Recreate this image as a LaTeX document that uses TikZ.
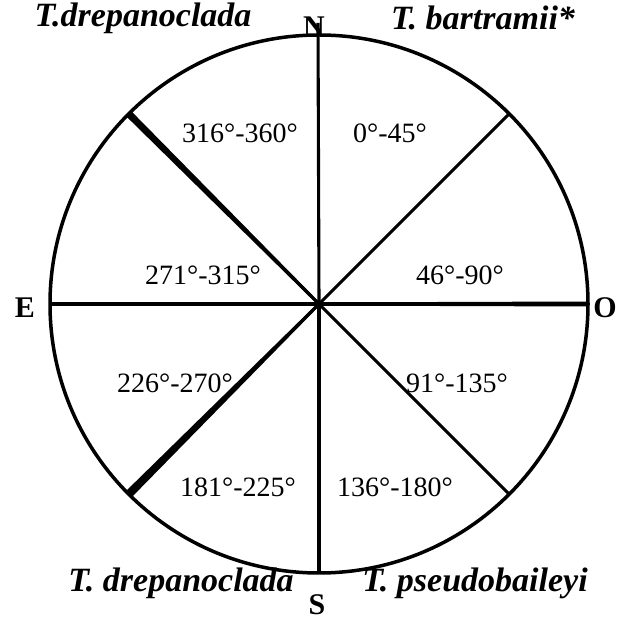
\documentclass[tikz,border=0pt]{standalone}
\usepackage{fontspec}
\setmainfont{Liberation Serif}
\usetikzlibrary{calc}
\tikzset{
  ray/.style={line width=3.1pt, line cap=butt},
  rim/.style={line width=3.5pt},
  sector/.style={font=\fontsize{28}{33}\selectfont, inner sep=0pt},
  species/.style={font=\fontsize{34}{40}\selectfont\bfseries\itshape, inner sep=0pt},
  cardinal/.style={font=\fontsize{30}{35}\selectfont\bfseries, inner sep=0pt},
}
\begin{document}
\begin{tikzpicture}[x=1pt,y=1pt]
\useasboundingbox (0,0) rectangle (617,621);
\fill[white] (0,0) rectangle (617,621);
\coordinate (C) at (319,317);
\draw[rim] (C) circle[radius=269];
% edge points
\coordinate (pN) at (318,598);
\coordinate (pS) at ($(C)+(270:269)$);
\coordinate (pE) at ($(C)+(180:269)$);
\coordinate (pO) at ($(C)+(0:269)$);
\coordinate (pNE) at ($(C)+(45:269)$);
\coordinate (pNW) at ($(C)+(135:269)$);
\coordinate (pSW) at ($(C)+(225:269)$);
\coordinate (pSE) at ($(C)+(315:269)$);
% rays
\draw[ray] (C) -- (pN);
\draw[ray] (C) -- (pS);
\draw[ray] (C) -- (pE);
\draw[ray] (C) -- (pO);
\draw[ray] (C) -- (pNE);
\draw[ray] (C) -- (pNW);
\draw[ray] (C) -- (pSW);
\draw[ray] (C) -- (pSE);
% thick tapered rays
\fill ($(pNW)!3.6pt!90:(C)$) -- ($(C)!1.5pt!-90:(pNW)$) -- ($(C)!1.5pt!90:(pNW)$) -- ($(pNW)!3.6pt!-90:(C)$) -- cycle;
\fill ($(pSW)!4.2pt!90:(C)$) -- ($(C)!1.5pt!-90:(pSW)$) -- ($(C)!1.5pt!90:(pSW)$) -- ($(pSW)!4.2pt!-90:(C)$) -- cycle;
\fill ($(pO)!2.5pt!90:(C)$) -- ($(C)!1.6pt!-90:(pO)$) -- ($(C)!1.6pt!90:(pO)$) -- ($(pO)!2.5pt!-90:(C)$) -- cycle;
% sector labels
\node[sector] (s1) at (240,488) {316°-360°};
\node[sector] (s2) at (390,488) {0°-45°};
\node[sector] (s3) at (203,346) {271°-315°};
\node[sector] (s4) at (460,346) {46°-90°};
\node[sector] (s5) at (175,238) {226°-270°};
\node[sector] (s6) at (457,238) {91°-135°};
\node[sector] (s7) at (238,134) {181°-225°};
\node[sector] (s8) at (395,134) {136°-180°};
% cardinal points
\node[cardinal] (N) at (314,594) {N};
\node[cardinal] (S) at (317,16) {S};
\node[cardinal] (E) at (25,313) {E};
\node[cardinal] (O) at (605,313) {O};
% species
\node[species] (t1) at (143,603) {T.drepanoclada};
\node[species] (t2) at (483,603) {T. bartramii*};
\node[species] (t3) at (181,38) {T. drepanoclada};
\node[species] (t4) at (475,38) {T. pseudobaileyi};
\end{tikzpicture}
\end{document}
